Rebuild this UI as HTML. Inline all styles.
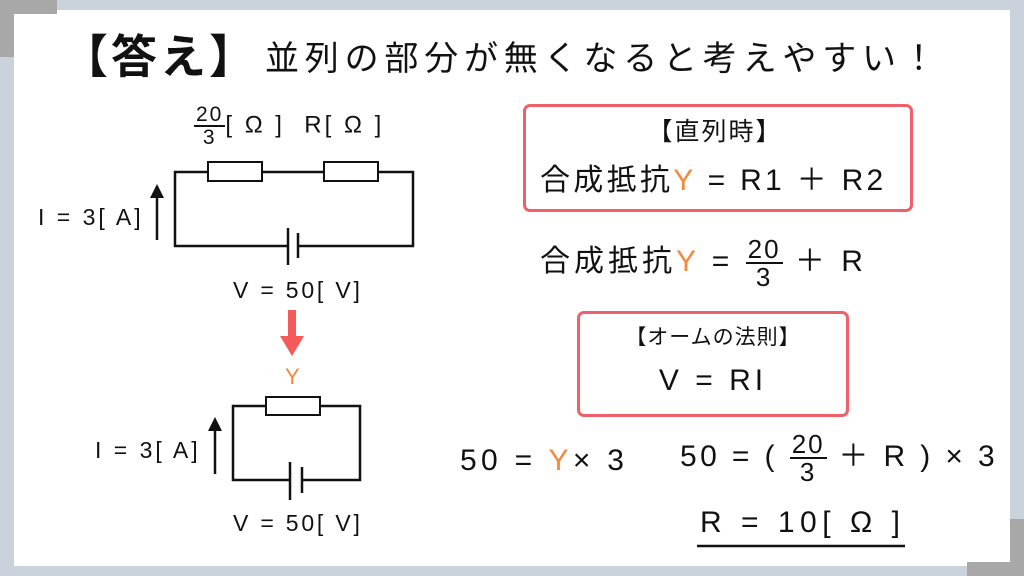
<!DOCTYPE html>
<html><head><meta charset="utf-8"><style>
body{margin:0;width:1024px;height:576px;background:#cad3dc;position:relative;overflow:hidden;font-family:"Liberation Sans","Noto Sans CJK JP",sans-serif;color:#111}
.p{position:absolute}
.t{position:absolute;white-space:nowrap;line-height:1}
.o{color:#f5883a}
.box{position:absolute;border:3px solid #f06068;border-radius:7px;background:#fff}
.fr{display:inline-block;vertical-align:middle;text-align:center;line-height:1;letter-spacing:2px}
.fr span{display:block}
.fr .n{border-bottom:2px solid #111;padding:0 2px}
</style></head><body>
<div class="p" style="left:14px;top:10px;width:996px;height:556px;background:#fff"></div>
<div class="p" style="left:0;top:0;width:57px;height:14px;background:#a8a8a8"></div>
<div class="p" style="left:0;top:0;width:14px;height:57px;background:#a8a8a8"></div>
<div class="p" style="left:967px;top:562px;width:57px;height:14px;background:#a8a8a8"></div>
<div class="p" style="left:1010px;top:519px;width:14px;height:57px;background:#a8a8a8"></div>

<div class="t" style="left:62px;top:34px;font-size:46px;font-weight:bold;letter-spacing:3px">【答え】</div>
<div class="t" style="left:265px;top:42px;font-size:34px;letter-spacing:5.8px">並列の部分が無くなると考えやすい！</div>

<svg class="p" style="left:0;top:0" width="1024" height="576">
<g fill="none" stroke="#111" stroke-width="2.5">
<polyline points="208,172 175,172 175,246 288,246"/>
<polyline points="298,246 413,246 413,172 378,172"/>
<line x1="262" y1="172" x2="324" y2="172"/>
<rect x="208" y="162" width="54" height="19" stroke-width="2"/>
<rect x="324" y="162" width="54" height="19" stroke-width="2"/>
<line x1="288" y1="228" x2="288" y2="265"/>
<line x1="298" y1="233" x2="298" y2="258"/>
<line x1="157" y1="240" x2="157" y2="195"/>
<polyline points="266,406 233,406 233,480 290,480"/>
<polyline points="302,480 360,480 360,406 320,406"/>
<rect x="266" y="397" width="54" height="18" stroke-width="2"/>
<line x1="290" y1="462" x2="290" y2="500"/>
<line x1="302" y1="467" x2="302" y2="493"/>
<line x1="215" y1="474" x2="215" y2="428"/>
<line x1="697" y1="546" x2="905" y2="546"/>
</g>
<polygon points="150,198 164,198 157,184" fill="#111"/>
<polygon points="208,431 222,431 215,417" fill="#111"/>
<rect x="288" y="310" width="8" height="27" fill="#f55a5a"/>
<polygon points="280,336 304,336 292,356" fill="#f55a5a"/>
</svg>

<div class="t" style="left:194px;top:104px;font-size:24px;letter-spacing:3px"><span class="fr" style="font-size:21px"><span class="n">20</span><span>3</span></span>[ Ω ] &nbsp;R[ Ω ]</div>
<div class="t" style="left:38px;top:206px;font-size:23px;letter-spacing:3px">I = 3[ A]</div>
<div class="t" style="left:233px;top:279px;font-size:23px;letter-spacing:2.8px">V = 50[ V]</div>
<div class="t o" style="left:285px;top:366px;font-size:22px">Y</div>
<div class="t" style="left:95px;top:439px;font-size:23px;letter-spacing:3px">I = 3[ A]</div>
<div class="t" style="left:233px;top:512px;font-size:23px;letter-spacing:2.8px">V = 50[ V]</div>

<div class="box" style="left:523px;top:104px;width:384px;height:102px"></div>
<div class="t" style="left:520px;top:120px;width:390px;text-align:center;font-size:25px;letter-spacing:2px">【直列時】</div>
<div class="t" style="left:540px;top:166px;font-size:30px;letter-spacing:3.3px">合成抵抗<span class="o">Y</span> = R1 ＋ R2</div>
<div class="t" style="left:540px;top:236px;font-size:30px;letter-spacing:4px">合成抵抗<span class="o">Y</span> = <span class="fr" style="font-size:26px"><span class="n">20</span><span>3</span></span> ＋ R</div>

<div class="box" style="left:577px;top:311px;width:266px;height:100px"></div>
<div class="t" style="left:577px;top:327px;width:272px;text-align:center;font-size:21px;letter-spacing:1px">【オームの法則】</div>
<div class="t" style="left:577px;top:366px;width:272px;text-align:center;font-size:30px;letter-spacing:4px">V = RI</div>

<div class="t" style="left:460px;top:446px;font-size:30px;letter-spacing:4.3px">50 = <span class="o">Y</span>× 3</div>
<div class="t" style="left:680px;top:431px;font-size:30px;letter-spacing:3.4px">50 = ( <span class="fr" style="font-size:26px"><span class="n">20</span><span>3</span></span> ＋ R ) × 3</div>
<div class="t" style="left:700px;top:508px;font-size:30px;letter-spacing:5.5px">R = 10[ Ω ]</div>
</body></html>
